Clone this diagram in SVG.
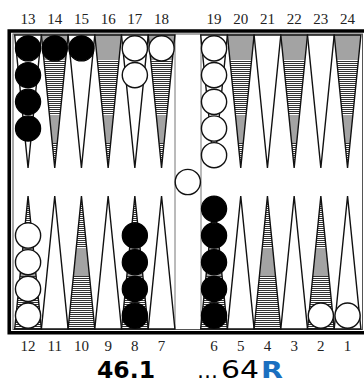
<svg xmlns="http://www.w3.org/2000/svg" xmlns:xlink="http://www.w3.org/1999/xlink" width="364" height="390" viewBox="0 0 364 390">
<style>
.lbl{font-family:"Liberation Serif","DejaVu Serif",serif;font-size:15px;fill:#222;text-anchor:middle}
.pw{fill:#fff;stroke:#111;stroke-width:1.4;stroke-linejoin:miter}
.po{fill:none;stroke:#111;stroke-width:1.4}
.gr{fill:#a3a3a3}
.bk{fill:#000;stroke:#000;stroke-width:1.2}
.wh{fill:#fff;stroke:#111;stroke-width:1.4}
</style>
<defs>
<pattern id="hatch" patternUnits="userSpaceOnUse" width="4" height="2">
<rect width="4" height="2" fill="#fff"/>
<rect width="4" height="1" fill="#333"/>
</pattern>
<g id="wt"><polygon class="pw" points="0,0 26.7,0 13.35,133"/></g>
<g id="dt">
<polygon points="0,0 26.7,0 13.35,133" fill="url(#hatch)"/>
<polygon class="gr" points="0,0 26.7,0 24.19,25 2.51,25"/>
<polygon class="gr" points="8.03,80 18.67,80 15.86,108 10.84,108"/>
<polygon class="po" points="0,0 26.7,0 13.35,133"/>
</g>
<g id="wb"><polygon class="pw" points="13.35,0 26.7,133 0,133"/></g>
<g id="db">
<polygon points="13.35,0 26.7,133 0,133" fill="url(#hatch)"/>
<polygon class="gr" points="8.13,52 18.57,52 21.38,80 5.32,80"/>
<polygon class="po" points="13.35,0 26.7,133 0,133"/>
</g>
</defs>
<rect width="364" height="390" fill="#fff"/>
<g id="board">
<rect x="13" y="34" width="349.5" height="295.5" fill="#fff" stroke="#555" stroke-width="1"/>
<line x1="175" y1="34" x2="175" y2="329.5" stroke="#777" stroke-width="1"/>
<line x1="201" y1="34" x2="201" y2="329.5" stroke="#777" stroke-width="1"/>
<path d="M370 31 H9.25 V332.7 H370" fill="none" stroke="#000" stroke-width="3.6"/>
</g>
<g id="points">
<use xlink:href="#wt" transform="translate(14.7,35)"/>
<use xlink:href="#dt" transform="translate(41.4,35)"/>
<use xlink:href="#wt" transform="translate(68.1,35)"/>
<use xlink:href="#dt" transform="translate(94.8,35)"/>
<use xlink:href="#wt" transform="translate(121.5,35)"/>
<use xlink:href="#dt" transform="translate(148.2,35)"/>
<use xlink:href="#wt" transform="translate(200.7,35)"/>
<use xlink:href="#dt" transform="translate(227.4,35)"/>
<use xlink:href="#wt" transform="translate(254.1,35)"/>
<use xlink:href="#dt" transform="translate(280.8,35)"/>
<use xlink:href="#wt" transform="translate(307.5,35)"/>
<use xlink:href="#dt" transform="translate(334.2,35)"/>
<use xlink:href="#db" transform="translate(14.7,196)"/>
<use xlink:href="#wb" transform="translate(41.4,196)"/>
<use xlink:href="#db" transform="translate(68.1,196)"/>
<use xlink:href="#wb" transform="translate(94.8,196)"/>
<use xlink:href="#db" transform="translate(121.5,196)"/>
<use xlink:href="#wb" transform="translate(148.2,196)"/>
<use xlink:href="#db" transform="translate(200.7,196)"/>
<use xlink:href="#wb" transform="translate(227.4,196)"/>
<use xlink:href="#db" transform="translate(254.1,196)"/>
<use xlink:href="#wb" transform="translate(280.8,196)"/>
<use xlink:href="#db" transform="translate(307.5,196)"/>
<use xlink:href="#wb" transform="translate(334.2,196)"/>
</g>
<g id="checkers">
<g id="p13"><circle class="bk" cx="28.05" cy="48.4" r="12.6"/><circle class="bk" cx="28.05" cy="75.1" r="12.6"/><circle class="bk" cx="28.05" cy="101.8" r="12.6"/><circle class="bk" cx="28.05" cy="128.5" r="12.6"/></g>
<g id="p14"><circle class="bk" cx="54.75" cy="48.4" r="12.6"/></g>
<g id="p15"><circle class="bk" cx="81.45" cy="48.4" r="12.6"/></g>
<g id="p17"><circle class="wh" cx="134.85" cy="48.4" r="12.6"/><circle class="wh" cx="134.85" cy="75.1" r="12.6"/></g>
<g id="p18"><circle class="wh" cx="161.55" cy="48.4" r="12.6"/></g>
<g id="p19"><circle class="wh" cx="214.05" cy="48.4" r="12.6"/><circle class="wh" cx="214.05" cy="75.1" r="12.6"/><circle class="wh" cx="214.05" cy="101.8" r="12.6"/><circle class="wh" cx="214.05" cy="128.5" r="12.6"/><circle class="wh" cx="214.05" cy="155.2" r="12.6"/></g>
<g id="bar"><circle class="wh" cx="187.8" cy="182" r="12.6"/></g>
<g id="p12"><circle class="wh" cx="28.05" cy="315.6" r="12.6"/><circle class="wh" cx="28.05" cy="288.9" r="12.6"/><circle class="wh" cx="28.05" cy="262.2" r="12.6"/><circle class="wh" cx="28.05" cy="235.5" r="12.6"/></g>
<g id="p8"><circle class="bk" cx="134.85" cy="315.6" r="12.6"/><circle class="bk" cx="134.85" cy="288.9" r="12.6"/><circle class="bk" cx="134.85" cy="262.2" r="12.6"/><circle class="bk" cx="134.85" cy="235.5" r="12.6"/></g>
<g id="p6"><circle class="bk" cx="214.05" cy="315.6" r="12.6"/><circle class="bk" cx="214.05" cy="288.9" r="12.6"/><circle class="bk" cx="214.05" cy="262.2" r="12.6"/><circle class="bk" cx="214.05" cy="235.5" r="12.6"/><circle class="bk" cx="214.05" cy="208.8" r="12.6"/></g>
<g id="p2"><circle class="wh" cx="320.85" cy="315.6" r="12.6"/></g>
<g id="p1"><circle class="wh" cx="347.55" cy="315.6" r="12.6"/></g>
</g>
<g id="labels">
<text class="lbl" x="28.05" y="24">13</text>
<text class="lbl" x="54.75" y="24">14</text>
<text class="lbl" x="81.45" y="24">15</text>
<text class="lbl" x="108.15" y="24">16</text>
<text class="lbl" x="134.85" y="24">17</text>
<text class="lbl" x="161.55" y="24">18</text>
<text class="lbl" x="214.05" y="24">19</text>
<text class="lbl" x="240.75" y="24">20</text>
<text class="lbl" x="267.45" y="24">21</text>
<text class="lbl" x="294.15" y="24">22</text>
<text class="lbl" x="320.85" y="24">23</text>
<text class="lbl" x="347.55" y="24">24</text>
<text class="lbl" x="28.05" y="351">12</text>
<text class="lbl" x="54.75" y="351">11</text>
<text class="lbl" x="81.45" y="351">10</text>
<text class="lbl" x="108.15" y="351">9</text>
<text class="lbl" x="134.85" y="351">8</text>
<text class="lbl" x="161.55" y="351">7</text>
<text class="lbl" x="214.05" y="351">6</text>
<text class="lbl" x="240.75" y="351">5</text>
<text class="lbl" x="267.45" y="351">4</text>
<text class="lbl" x="294.15" y="351">3</text>
<text class="lbl" x="320.85" y="351">2</text>
<text class="lbl" x="347.55" y="351">1</text>
</g>
<g id="caption" font-family="'DejaVu Sans',Verdana,sans-serif" font-size="23">
<text x="97" y="378" font-weight="bold" fill="#000" textLength="58" lengthAdjust="spacingAndGlyphs">46.1</text>
<text y="378" fill="#000"><tspan x="197" textLength="21" lengthAdjust="spacingAndGlyphs">…</tspan><tspan x="221" textLength="38" lengthAdjust="spacingAndGlyphs" font-size="25">64</tspan><tspan x="261" font-weight="bold" fill="#1a6fc0" textLength="22" lengthAdjust="spacingAndGlyphs">R</tspan></text>
</g>
</svg>
